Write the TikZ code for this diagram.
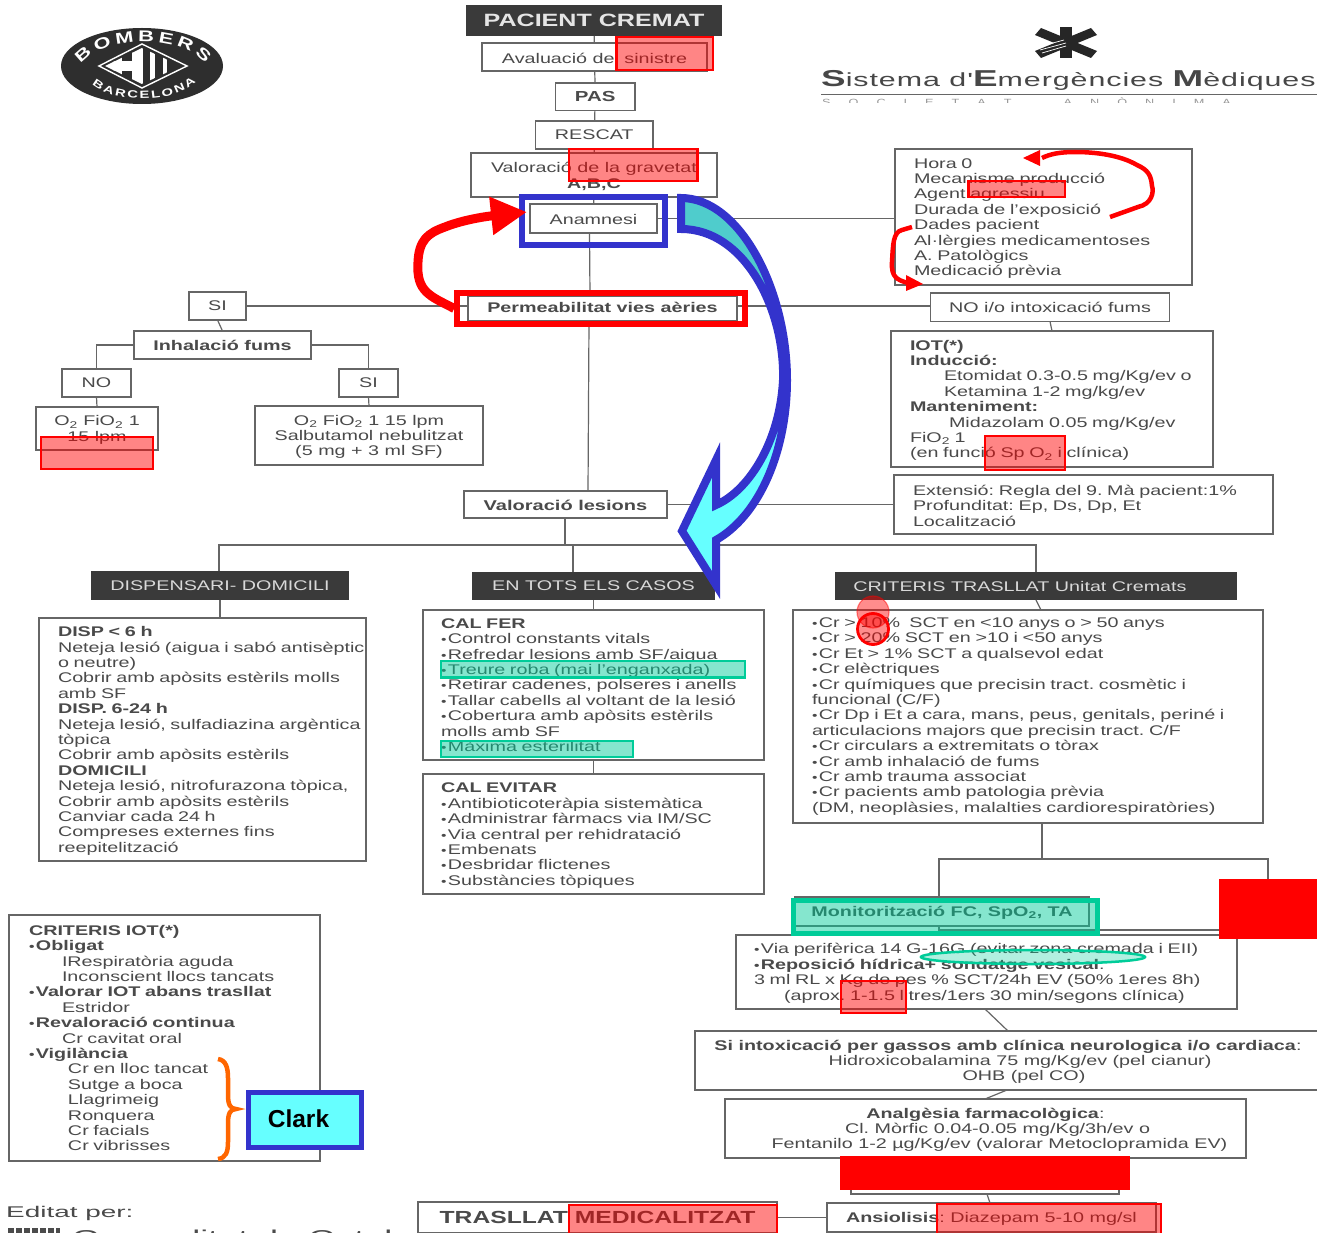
\documentclass[tikz,border=0pt]{standalone}
\usepackage{fontspec}
\usetikzlibrary{arrows.meta,decorations.text,shapes.geometric}
\setmainfont[FakeStretch=1.41]{Liberation Sans}
\newfontfamily\plainf{Liberation Sans}
\newfontfamily\semfont[FakeStretch=1.6,LetterSpace=5]{Liberation Sans}
\newfontfamily\lowfont[FakeStretch=1.8]{Liberation Sans}
\definecolor{ink}{HTML}{4A4A4A}
\definecolor{edge}{HTML}{666666}
\definecolor{darkbar}{HTML}{3A3A3A}
\definecolor{bluemark}{HTML}{3333CC}
\definecolor{greenmark}{HTML}{00CC99}
\newcommand{\bl}{{\fontsize{11}{11}\selectfont •}\kern1.5pt{}}
\newcommand{\ind}[1]{\hspace*{#1pt}}
\newcommand{\sub}{\textsubscript{2}}
\newcommand{\ts}{\rule{0pt}{13pt}}
\tikzset{
  base/.style={font=\fontsize{14}{15.4}\selectfont,text=ink,inner sep=0pt,outer sep=0pt},
  boxst/.style={base,draw=edge,line width=1.2pt,rectangle,align=center},
  darkst/.style={base,fill=darkbar,draw=none,rectangle,align=center,text=black!15},
  conn/.style={draw=edge,line width=1.2pt},
  redov/.style={fill=red,fill opacity=.48,draw=red,draw opacity=1,line width=2.5pt},
  greenov/.style={fill=greenmark,fill opacity=.48,draw=greenmark,draw opacity=1,line width=2.5pt},
  redline/.style={draw=red,line width=4.5pt,line join=round},
}
% \mybox[opts]{name}{l}{t}{r}{b}{text}
\newcommand{\mybox}[7][]{%
  \pgfmathsetmacro\cxx{(#3+#5)/2}\pgfmathsetmacro\cyy{(#4+#6)/2}%
  \pgfmathsetmacro\www{#5-#3}\pgfmathsetmacro\hhh{#6-#4}%
  \node[boxst,minimum width=\www pt,minimum height=\hhh pt,#1] (#2) at (\cxx,\cyy) {\ts#7};}
% \myl{inset}{name}{l}{t}{r}{b}{text}: box with left aligned block
\newcommand{\myl}[7]{%
  \pgfmathsetmacro\cxx{(#3+#5)/2}\pgfmathsetmacro\cyy{(#4+#6)/2}%
  \pgfmathsetmacro\www{#5-#3-2*#1}\pgfmathsetmacro\hhh{#6-#4}%
  \node[boxst,align=left,inner xsep=#1pt,text width=\www pt,minimum height=\hhh pt] (#2) at (\cxx,\cyy) {\ts#7};}
\newcommand{\ovl}[6][redov]{\path[#1] (#3,#4) rectangle (#5,#6);\coordinate (#2) at ({(#3+#5)/2},{(#4+#6)/2});}
\begin{document}
\frenchspacing
\begin{tikzpicture}[x=1pt,y=-1pt]
\path[use as bounding box,clip] (0,0) rectangle (1317,1233);
\fill[white] (0,0) rectangle (1317,1233);

% ---- Bombers logo
\fill[black!82] (142,66) ellipse [x radius=81,y radius=38];
\path[decorate,decoration={text along path,text align=fit to path,
  text={|\fontsize{15.5}{15}\bfseries\color{white}|BOMBERS}}]
  (81,64) .. controls (103,34) and (183,34) .. (205,64);
\path[decorate,decoration={text along path,text align=fit to path,
  text={|\fontsize{10.5}{10}\bfseries\color{white}|BARCELONA}}]
  (92,84) .. controls (114,104) and (172,104) .. (196,82);
\begin{scope}
  \path[clip] (105,66) -- (142,48) -- (181,66) -- (142,84) -- cycle;
  \fill[white] (113,44) rectangle (122,88);
  \fill[white] (132,44) rectangle (143,88);
  \fill[white] (99,61) rectangle (132,71);
  \fill[white] (150,44) rectangle (155,88);
  \fill[white] (163,44) rectangle (167,88);
\end{scope}
\draw[white,line width=1.4pt] (99,66) -- (142,44) -- (187,66) -- (142,88) -- cycle;

% ---- Star of life and SEM heading
\fill[black!85] (1060,27) rectangle (1072,58);
\fill[black!85] (1035,35) -- (1041,28) -- (1097,51) -- (1091,58) -- cycle;
\fill[black!85] (1035,51) -- (1041,58) -- (1097,35) -- (1091,28) -- cycle;
\draw[white,line width=.7pt] (1038,47) -- (1064,40);
\draw[white,line width=.7pt] (1040,50) -- (1066,43);
\draw[white,line width=.7pt] (1042,53) -- (1066,46);
\node[anchor=base west,inner sep=0pt,text=black!72] (semtitle) at (821,87)
  {\semfont\fontsize{19}{19}\selectfont{\fontsize{23}{23}\selectfont\bfseries S}istema d'{\fontsize{23}{23}\selectfont\bfseries E}mergències {\fontsize{23}{23}\selectfont\bfseries M}èdiques};
\draw[black!60,line width=.8pt] (821,94) -- (1317,94);
\begin{scope}
  \clip (800,97.5) rectangle (1317,103);
  \node[anchor=base west,inner sep=0pt,text=black!40,font=\fontsize{9}{9}\selectfont] (semsub) at (822,106)
    {S\hspace{18pt}O\hspace{18pt}C\hspace{18pt}I\hspace{18pt}E\hspace{18pt}T\hspace{18pt}A\hspace{18pt}T\hspace{52pt}A\hspace{18pt}N\hspace{18pt}Ò\hspace{18pt}N\hspace{18pt}I\hspace{18pt}M\hspace{18pt}A};
\end{scope}

% ---- Central column
{\let\ts\relax
\mybox[darkst,text=black!10,font=\fontsize{17.8}{18}\selectfont\bfseries]{title}{466}{5}{722}{36}{\raisebox{-1pt}{PACIENT CREMAT}}
\mybox[darkst]{disp}{91}{571}{349}{600}{DISPENSARI- DOMICILI}
\mybox[darkst]{tots}{472}{572}{715}{600}{EN TOTS ELS CASOS}
\mybox[darkst]{crit}{835}{572}{1237}{600}{CRITERIS TRASLLAT Unitat Cremats\hspace*{32pt}}
\mybox[font=\fontsize{14.5}{15}\selectfont\bfseries]{pas}{555.5}{83}{635}{110.5}{PAS}
\mybox{rescat}{535.5}{121}{653}{149}{RESCAT}
\mybox{si}{189}{292}{246}{320}{SI}
\mybox[font=\fontsize{14}{15}\selectfont\bfseries]{inh}{134}{331}{311}{359}{Inhalació fums}
\mybox{no}{62}{369}{131}{397}{NO}
\mybox{sib}{339}{369}{398}{397}{SI}
\mybox{noi}{930.5}{293}{1169.5}{321.5}{NO i/o intoxicació fums}
}
\mybox{aval}{482}{43}{707}{71}{Avaluació del sinistre}
\mybox{valor}{471}{153}{717}{197}{Valoració de la gravetat\\[0.5pt]\textbf{A,B,C}}
\mybox{anam}{530}{204}{657}{233}{Anamnesi}
\mybox[font=\fontsize{14}{15}\selectfont\bfseries]{perm}{468}{296}{737}{321}{\raisebox{3pt}{Permeabilitat vies aèries}}
\mybox{oa}{36}{407}{158}{450}{O\sub{} FiO\sub{} 1\\15 lpm}
\mybox{ob}{255}{406}{483}{465}{O\sub{} FiO\sub{} 1 15 lpm\\Salbutamol nebulitzat\\(5 mg + 3 ml SF)}
\mybox[font=\fontsize{14.2}{15}\selectfont\bfseries]{vles}{464}{491}{667}{518}{Valoració lesions}

% ---- Right column
\myl{19}{hora}{895}{149}{1192}{285}{Hora 0\\Mecanisme producció\\Agent agressiu\\Durada de l'exposició\\Dades pacient\\Al·lèrgies medicamentoses\\A. Patològics\\Medicació prèvia}
\myl{19}{iot}{891}{331}{1213}{467}{\textbf{IOT(*)}\\\textbf{Inducció:}\\\ind{34}Etomidat 0.3-0.5 mg/Kg/ev o\\\ind{34}Ketamina 1-2 mg/kg/ev\\\textbf{Manteniment:}\\\ind{39}Midazolam 0.05 mg/Kg/ev\\FiO\sub{} 1\\(en funció Sp O\sub{} i clínica)}
\myl{19}{ext}{894}{475}{1273}{534}{Extensió: Regla del 9. Mà pacient:1\%\\Profunditat: Ep, Ds, Dp, Et\\Localització}

% ---- Section boxes
\myl{19}{dispb}{39}{618}{366}{861}{\textbf{DISP < 6 h}\\\mbox{Neteja lesió (aigua i sabó antisèptic}\\o neutre)\\Cobrir amb apòsits estèrils molls\\amb SF\\\textbf{DISP. 6-24 h}\\\mbox{Neteja lesió, sulfadiazina argèntica}\\tòpica\\Cobrir amb apòsits estèrils\\\textbf{DOMICILI}\\\mbox{Neteja lesió, nitrofurazona tòpica,}\\Cobrir amb apòsits estèrils\\Canviar cada 24 h\\Compreses externes fins\\reepitelització}
{\let\ts\relax
\myl{18}{fer}{423}{610}{764}{760}{\textbf{CAL FER}\\\bl{}Control constants vitals\\\bl{}Refredar lesions amb SF/aigua\\\bl{}Treure roba (mai l'enganxada)\\\bl{}Retirar cadenes, polseres i anells\\\bl{}Tallar cabells al voltant de la lesió\\\bl{}Cobertura amb apòsits estèrils\\molls amb SF\\\bl{}Màxima esterilitat}
\myl{19}{critb}{793}{610}{1263}{823}{\bl{}Cr > 10\%\ \ SCT en <10 anys o > 50 anys\\\bl{}Cr > 20\% SCT en >10 i <50 anys\\\bl{}Cr Et > 1\% SCT a qualsevol edat\\\bl{}Cr elèctriques\\\bl{}Cr químiques que precisin tract. cosmètic i\\funcional (C/F)\\\bl{}Cr Dp i Et a cara, mans, peus, genitals, periné i\\articulacions majors que precisin tract. C/F\\\bl{}Cr circulars a extremitats o tòrax\\\bl{}Cr amb inhalació de fums\\\bl{}Cr amb trauma associat\\\bl{}Cr pacients amb patologia prèvia\\(DM, neoplàsies, malalties cardiorespiratòries)}
\myl{20}{ciot}{9}{915}{320}{1161}{\textbf{CRITERIS IOT(*)}\\\textbf{\bl{}Obligat}\\\ind{33}IRespiratòria aguda\\\ind{33}Inconscient llocs tancats\\\textbf{\bl{}Valorar IOT abans trasllat}\\\ind{33}Estridor\\\textbf{\bl{}Revaloració continua}\\\ind{33}Cr cavitat oral\\\textbf{\bl{}Vigilància}\\\ind{39}Cr en lloc tancat\\\ind{39}Sutge a boca\\\ind{39}Llagrimeig\\\ind{39}Ronquera\\\ind{39}Cr facials\\\ind{39}Cr vibrisses}
}
\myl{18}{evit}{423}{774}{764}{894}{\textbf{CAL EVITAR}\\\bl{}Antibioticoteràpia sistemàtica\\\bl{}Administrar fàrmacs via IM/SC\\\bl{}Via central per rehidratació\\\bl{}Embenats\\\bl{}Desbridar flictenes\\\bl{}Substàncies tòpiques}

% ---- Lower right chain
\mybox{frame}{939}{859}{1268}{930}{}
\mybox[font=\fontsize{14}{15}\selectfont\bfseries,fill=white]{moni}{795}{897}{1089}{926}{Monitorització FC, SpO\sub{}, TA}
\myl{18}{via}{736}{935}{1237}{1009}{\bl{}Via perifèrica 14 G-16G (evitar zona cremada i EII)\\\textbf{\bl{}Reposició hídrica+ sondatge vesical}:\\3 ml RL x Kg de pes \% SCT/24h EV (50\% 1eres 8h)\\\ind{30}(aprox. 1-1.5 litres/1ers 30 min/segons clínica)}
\mybox{gas}{695}{1031}{1321}{1090}{\textbf{Si intoxicació per gassos amb clínica neurologica i/o cardiaca}:\\\hspace*{24pt}Hidroxicobalamina 75 mg/Kg/ev (pel cianur)\\\hspace*{32pt}OHB (pel CO)}
\mybox{anal}{725}{1099}{1246}{1158}{\textbf{Analgèsia farmacològica}:\\\hspace*{24pt}Cl. Mòrfic 0.04-0.05 mg/Kg/3h/ev o\\\hspace*{28pt}Fentanilo 1-2 µg/Kg/ev (valorar Metoclopramida EV)}
\mybox{hid}{851}{1165}{1119}{1194}{}
\mybox[font=\fontsize{14}{15}\selectfont]{ans}{827}{1203}{1156}{1232}{\textbf{Ansiolisis}: Diazepam 5-10 mg/sl}
\mybox[font=\fontsize{17.5}{20}\selectfont\bfseries]{tra}{418}{1202}{777}{1233}{TRASLLAT MEDICALITZAT}

% ---- Connectors
\draw[conn] (title) -- (aval);
\draw[conn] (aval) -- (pas);
\draw[conn] (pas) -- (rescat);
\draw[conn] (rescat) -- (valor);
\draw[conn] (valor) -- (anam);
\draw[conn] (anam.south) ++(-4,0) coordinate (ansb) -- (perm.north -| 590,0);
\coordinate (trunk) at (589,321);
\draw[conn] (trunk) -- (vles.north -| 588,0);
\draw[conn] (anam.east) -- (hora.west |- anam.east);
\coordinate (perml) at (468,306);
\coordinate (permr) at (737,306);
\draw[conn] (permr) -- (noi.west |- permr);
\draw[conn] (perml) -- (si.east |- perml);
\draw[conn] (si.south) -- (inh.north);
\draw[conn] (inh.west) -| (no.north);
\draw[conn] (inh.east) -| (sib.north);
\draw[conn] (no.south) -- (oa.north);
\draw[conn] (sib.south) -- (ob.north);
\draw[conn] (noi.south) -- (iot.north);
\draw[conn] (vles.east) -- (ext.west |- vles.east);
\coordinate (bus) at (565,545);
\coordinate (busb) at (573,545);
\draw[conn] (vles.south -| bus) -- (bus);
\draw[conn] (disp.north -| 219,0) |- (bus);
\draw[conn] (bus) -| (crit.north);
\draw[conn] (busb) -- (tots.north -| busb);
\draw[conn] (disp.south) -- (dispb.north -| disp.south);
\draw[conn] (tots.south) -- (fer.north -| tots.south);
\draw[conn] (fer.south) -- (evit.north);
\draw[conn] (crit.south) -- ++(5,10);
\draw[conn] (critb.south -| 1042,0) -- (frame.north -| 1042,0);
\draw[conn] (moni.south -| 939,0) -- (via.north -| 939,0);
\draw[conn] (via.south -| 985,0) -- (gas.north -| 1008,0);
\draw[conn] (gas.south -| 1007,0) -- (anal.north -| 985,0);
\draw[conn] (anal.south -| 985,0) -- (hid.north -| 985,0);
\draw[conn] (hid.south -| 987,0) -- (ans.north -| 990,0);
\draw[conn] (tra.east |- ans.west) -- (ans.west);

% ---- Translucent red and green marks
\ovl{raval}{616.5}{37}{713}{70}
\ovl{rvalor}{569}{149}{697.5}{181}
\ovl{roa}{41}{437}{153}{469}
\ovl{rhora}{968.5}{181}{1065}{197}
\ovl{riot}{985}{436}{1065}{470}
\ovl{rvia}{841}{981}{906}{1013}
\ovl{rtra}{569}{1205}{777}{1240}
\ovl{rans}{937}{1204}{1161}{1240}
\ovl[greenov]{gfer}{441}{661}{745}{677.5}
\ovl[greenov]{gmax}{441}{741}{633}{757}
\ovl[greenov,line width=5pt]{gmoni}{793}{900.5}{1097}{933}
\path[greenov,fill opacity=.3] (1033,957) ellipse [x radius=112,y radius=7];
\path[fill=red,fill opacity=.45,draw=red,draw opacity=.45,line width=1.2pt] (873,612) circle (16);
\path[fill=red,fill opacity=.45,draw=red,line width=2.8pt] (873,629) circle (15.5);

% ---- Solid red blocks
\fill[red] (1219,879) rectangle (1317,939);
\fill[red] (839.5,1156) rectangle (1130,1190);

% ---- Marking frames
\node[draw=bluemark,line width=6pt,minimum width=143pt,minimum height=48pt,inner sep=0pt] (bluea) at (593.5,221) {};
\node[draw=red,line width=5.5pt,minimum width=288pt,minimum height=31pt,inner sep=0pt] (redp) at (601,308.5) {};

% ---- Thick red arrow
\coordinate (rtip) at (527,212);
\draw[red,line width=9pt,-{Triangle[length=36pt,width=36pt]}]
  (redp.west) .. controls (430,296) and (416,292) .. (418,262)
  .. controls (419,240) and (428,233) .. (445,227)
  .. controls (465,219) and (490,216) .. (rtip);

% ---- Small red arrows inside the history box
\coordinate (hta) at (1023,158);
\coordinate (htb) at (923,284);
\draw[redline] (1110,217) -- (1138,207) .. controls (1152,204) and (1154,192) .. (1152,186)
  .. controls (1151,175) and (1148,170) .. (1137,165)
  .. controls (1120,155) and (1095,152) .. (1075,152)
  .. controls (1060,152) and (1050,154) .. (1042,158);
\fill[red] (hta) -- (1040,150) -- (1040,166) -- cycle;
\draw[redline] (912,227) -- (902,230) .. controls (893,232) and (893,245) .. (892,262)
  .. controls (891,277) and (897,280) .. (908,283);
\fill[red] (htb) -- (906,275) -- (906,291) -- cycle;

% ---- Big curved arrow
\def\bigarrow{(681,198) .. controls (740,198) and (787,290) .. (787,380)
  .. controls (787,450) and (760,515) .. (716,540) -- (716,585) -- (682,531) -- (716,460) -- (716,505)
  .. controls (750,490) and (780,440) .. (783,380)
  .. controls (785,310) and (745,229) .. (681,229) -- cycle}
\begin{scope}
  \clip (660,190) rectangle (810,400);
  \fill[color={rgb,255:red,79;green,204;blue,204}] \bigarrow;
\end{scope}
\begin{scope}
  \clip (660,400) rectangle (810,610);
  \fill[color={rgb,255:red,102;green,255;blue,255}] \bigarrow;
\end{scope}
\draw[bluemark,line width=8pt,miter limit=10] \bigarrow;

% ---- Brace and Clark tag
\draw[draw={rgb,255:red,255;green,102;blue,0},line width=4.5pt]
  (218,1059) .. controls (226,1060) and (228,1068) .. (228,1078) -- (228,1095)
  .. controls (228,1104) and (230,1109) .. (236,1109)
  .. controls (230,1109) and (228,1114) .. (228,1123) -- (228,1142)
  .. controls (228,1152) and (226,1158) .. (218,1159);
\node[draw=bluemark,fill={rgb,255:red,102;green,255;blue,255},line width=5.5pt,minimum width=113pt,minimum height=55pt,inner sep=0pt,text=black,font=\plainf\fontsize{24.5}{26}\selectfont\bfseries] (clark) at (305,1120) {\raisebox{2pt}{\hspace*{-13pt}Clark}};

% ---- Publisher credit
\node[anchor=base west,inner sep=0pt,text=ink,font=\lowfont\fontsize{15.5}{16}\selectfont] (edit) at (6,1217) {Editat per:};
\node[anchor=base west,inner sep=0pt,text=ink,font=\lowfont\fontsize{20}{20}\selectfont] (gen) at (72,1244) {Generalitat de Catalunya};
\fill[black!70] (8,1228) rectangle (60,1233);
\foreach \xx in {14,22,30,38,46,54}{\fill[white] (\xx,1228) rectangle ({\xx+2},1233);}
\end{tikzpicture}
\end{document}
